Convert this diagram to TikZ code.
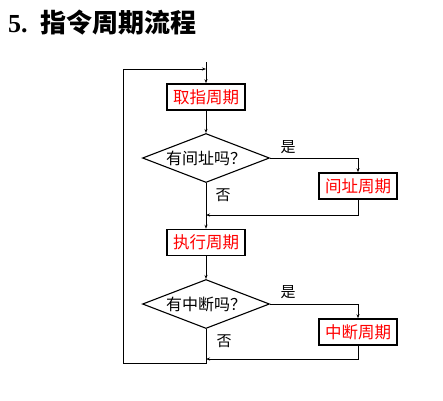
\documentclass[tikz,border=0pt]{standalone}
\usepackage{fontspec}
\setmainfont{Liberation Serif}
\newfontfamily\cjk{Noto Sans CJK SC}
\usetikzlibrary{shapes.geometric,arrows.meta}
\tikzset{
  cycbox/.style={draw,line width=1.6pt,text=red,font=\cjk\fontsize{16.5}{16.5}\selectfont,
    minimum width=78pt,minimum height=26pt,inner sep=0pt},
  test/.style={draw,shape=diamond,line width=1.1pt,aspect=2.6,minimum width=127pt,
    minimum height=49pt,inner sep=0pt,font=\cjk\fontsize{16}{16}\selectfont},
  flow/.style={line width=1pt,-{Stealth[length=4pt,width=3pt]}},
  lbl/.style={font=\cjk\fontsize{15}{15}\selectfont}
}
\begin{document}
\begin{tikzpicture}[x=1pt,y=-1pt]
  \useasboundingbox (0,0) rectangle (443,400);
  \node[anchor=west,font=\fontsize{26}{26}\selectfont,inner sep=0pt] (title) at (8,23) {\bfseries 5.\hspace{13pt}\cjk 指令周期流程};
  % main column
  \node[cycbox] (fetch) at (206,97) {取指周期};
  \node[test] (ind) at (206,158) {有间址吗？};
  \node[cycbox] (indc) at (358,186) {间址周期};
  \node[cycbox] (exec) at (206,242.5) {执行周期};
  \node[test] (intr) at (206,304) {有中断吗？};
  \node[cycbox] (intc) at (358,332) {中断周期};
  % labels
  \node[lbl] (yes1) at (288,147) {是};
  \node[lbl] (no1) at (223,195) {否};
  \node[lbl] (yes2) at (288,292) {是};
  \node[lbl] (no2) at (224,341) {否};
  % helper points
  \coordinate (top) at (206,62);
  \coordinate (entry) at (206,69);
  \coordinate (j1) at (206,215);
  \coordinate (j2) at (206,359);
  \coordinate (bot) at (206,363);
  \coordinate (lft) at (123,363);
  % connectors
  \draw[flow] (top) -- (fetch);
  \draw[flow] (fetch) -- (ind);
  \draw[flow] (ind.east) -| (indc);
  \draw[flow] (indc.south) |- (j1);
  \draw[flow] (ind) -- (exec);
  \draw[flow] (exec) -- (intr);
  \draw[flow] (intr.east) -| (intc);
  \draw[flow] (intc.south) |- (j2);
  \draw[flow] (intr.south) -- (bot) -- (lft) |- (entry);
\end{tikzpicture}
\end{document}
